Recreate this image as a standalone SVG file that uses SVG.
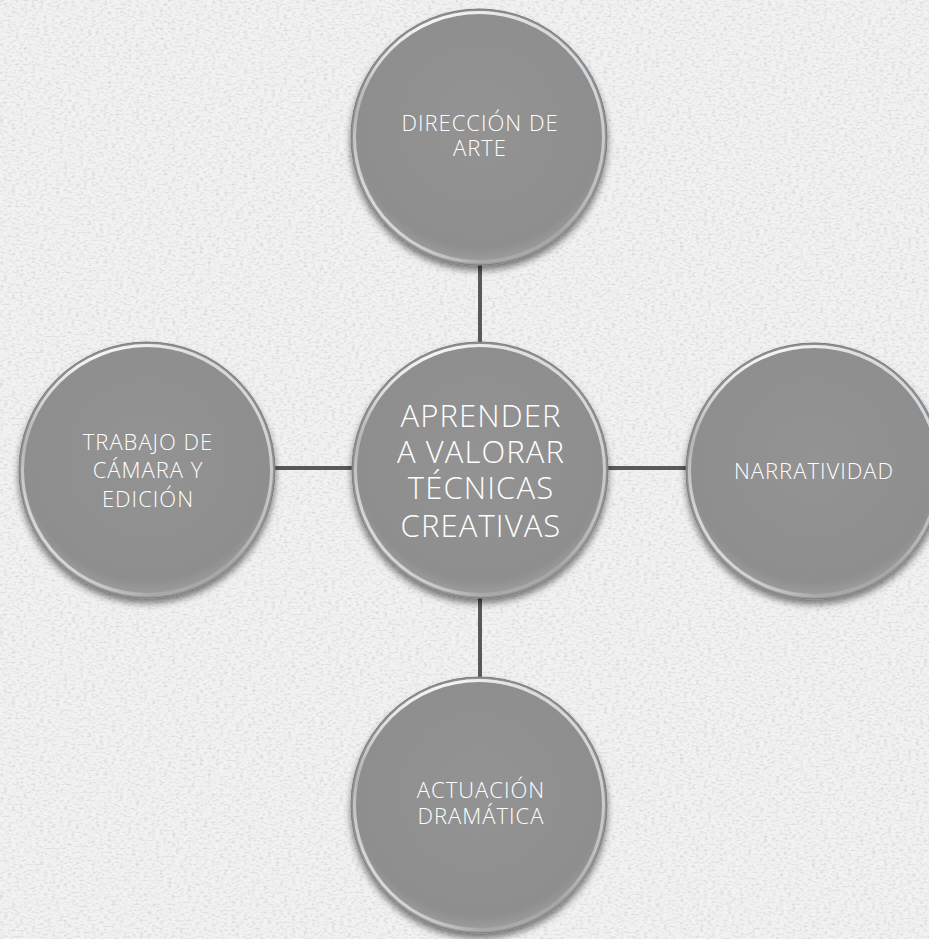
<svg xmlns="http://www.w3.org/2000/svg" width="929" height="939" viewBox="0 0 929 939">
  <defs>
    <filter id="paper" x="0" y="0" width="100%" height="100%">
      <feTurbulence type="fractalNoise" baseFrequency="0.25 0.5" numOctaves="3" seed="4" result="n"/>
      <feColorMatrix in="n" type="matrix" values="0 0 0 0 0.62  0 0 0 0 0.62  0 0 0 0 0.62  0 0 0 -1.8 1.0" result="g"/>
      <feComposite in="g" in2="SourceGraphic" operator="over"/>
    </filter>
    <filter id="shadow" x="-20%" y="-20%" width="140%" height="150%">
      <feGaussianBlur in="SourceAlpha" stdDeviation="3.5"/>
      <feOffset dx="0" dy="5" result="b"/>
      <feComponentTransfer><feFuncA type="linear" slope="0.5"/></feComponentTransfer>
      <feMerge><feMergeNode/><feMergeNode in="SourceGraphic"/></feMerge>
    </filter>
    <radialGradient id="fill" cx="50%" cy="45%" r="55%">
      <stop offset="0" stop-color="#939393"/>
      <stop offset="0.88" stop-color="#8e8e8e"/>
      <stop offset="1" stop-color="#a0a0a0"/>
    </radialGradient>
    <linearGradient id="rim" x1="0.3" y1="0" x2="0.7" y2="1">
      <stop offset="0" stop-color="#ffffff" stop-opacity="1"/>
      <stop offset="0.25" stop-color="#ffffff" stop-opacity="0.2"/>
      <stop offset="0.6" stop-color="#ffffff" stop-opacity="0"/>
      <stop offset="1" stop-color="#ffffff" stop-opacity="0.15"/>
    </linearGradient>
    <linearGradient id="rim2" x1="1" y1="0.2" x2="0" y2="0.9">
      <stop offset="0" stop-color="#dfe9f0" stop-opacity="0.9"/>
      <stop offset="0.45" stop-color="#ffffff" stop-opacity="0"/>
      <stop offset="0.7" stop-color="#ffffff" stop-opacity="0"/>
      <stop offset="1" stop-color="#ffffff" stop-opacity="1"/>
    </linearGradient>
    <g id="bub">
      <circle r="128" fill="url(#fill)" stroke="#7e7e7e" stroke-width="1" filter="url(#shadow)"/>
      <circle r="124.5" fill="none" stroke="url(#rim)" stroke-width="3"/>
      <circle r="124.5" fill="none" stroke="url(#rim2)" stroke-width="3"/>
    </g>
  </defs>
  <style>
    .t { font-family: "Open Sans", "Liberation Sans", sans-serif; fill: #ffffff; text-anchor: middle; font-weight: 350; }
    .s { font-size: 22px; letter-spacing: 1px; }
    .c { font-size: 31px; letter-spacing: 1.1px; }
    .con line { stroke: #595959; stroke-width: 4; }
  </style>
  <rect width="929" height="939" fill="#f2f2f2" filter="url(#paper)"/>
  <g id="connectors" class="con">
    <line x1="480" y1="262" x2="480" y2="346"/>
    <line x1="272" y1="468" x2="356" y2="468"/>
    <line x1="604" y1="468" x2="690" y2="468"/>
    <line x1="480" y1="592" x2="480" y2="680"/>
  </g>
  <g id="node-top">
    <use href="#bub" x="479" y="137"/>
    <text class="t s" x="480" y="131">DIRECCIÓN DE</text>
    <text class="t s" x="480" y="156">ARTE</text>
  </g>
  <g id="node-center">
    <use href="#bub" x="480" y="470"/>
    <text class="t c" x="481" y="427">APRENDER</text>
    <text class="t c" x="481" y="463">A VALORAR</text>
    <text class="t c" x="481" y="499">TÉCNICAS</text>
    <text class="t c" x="481" y="537">CREATIVAS</text>
  </g>
  <g id="node-left">
    <use href="#bub" x="147" y="470"/>
    <text class="t s" x="148" y="450">TRABAJO DE</text>
    <text class="t s" x="148" y="478">CÁMARA Y</text>
    <text class="t s" x="148" y="507">EDICIÓN</text>
  </g>
  <g id="node-right">
    <use href="#bub" x="814" y="471"/>
    <text class="t s" x="814" y="479">NARRATIVIDAD</text>
  </g>
  <g id="node-bottom">
    <use href="#bub" x="479" y="805"/>
    <text class="t s" x="481" y="798">ACTUACIÓN</text>
    <text class="t s" x="481" y="824">DRAMÁTICA</text>
  </g>
</svg>
